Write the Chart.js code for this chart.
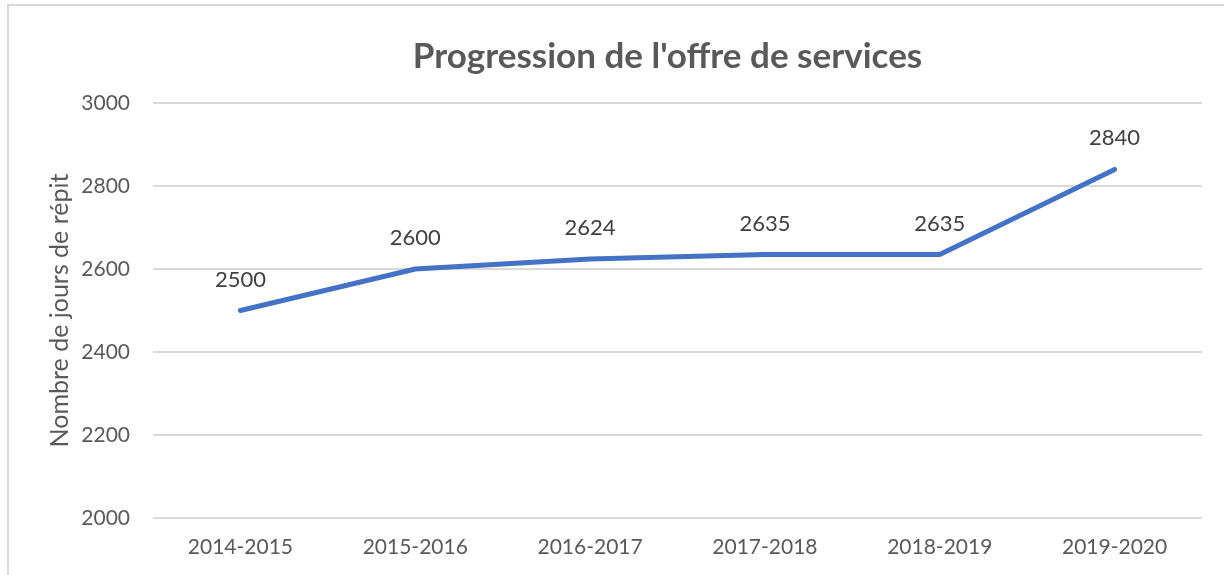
<!DOCTYPE html>
<html>
<head>
<meta charset="utf-8">
<script src="https://cdn.jsdelivr.net/npm/chart.js@4.4.0/dist/chart.umd.min.js"></script>
<style>
  html, body { margin: 0; padding: 0; background: #fff; }
  #wrap { position: relative; width: 1224px; height: 575px; }
  #frame {
    position: absolute; left: 7px; top: 4px; right: 0; bottom: 0;
    border-left: 2px solid #d9d9d9; border-top: 2px solid #d9d9d9;
  }
  canvas { position: absolute; left: 0; top: 0; }
</style>
</head>
<body>
<div id="wrap">
  <div id="frame"></div>
  <canvas id="chart" width="1224" height="575"></canvas>
</div>
<script>
// chart data
const seasons = ['2014-2015', '2015-2016', '2016-2017', '2017-2018', '2018-2019', '2019-2020'];
const respiteDays = [2500, 2600, 2624, 2635, 2635, 2840];
const yTicks = [2000, 2200, 2400, 2600, 2800, 3000];

const FONT = 'Lato, "Open Sans", sans-serif';
const TEXT = '#595959';

// simple value labels above each point
const pointLabels = {
  id: 'pointLabels',
  afterDatasetsDraw(chart) {
    const ctx = chart.ctx;
    const meta = chart.getDatasetMeta(0);
    ctx.save();
    ctx.font = '22px ' + FONT;
    ctx.fillStyle = '#404040';
    ctx.textAlign = 'center';
    ctx.textBaseline = 'middle';
    meta.data.forEach((pt, i) => {
      ctx.fillText(String(respiteDays[i]), pt.x, pt.y - 31);
    });
    ctx.restore();
  }
};

// the title sits a bit right of the canvas centre in the original
const titleShift = {
  id: 'titleShift',
  afterLayout(chart) {
    const tb = chart.titleBlock;
    if (tb) { tb.left += 44; tb.right += 44; }
  }
};

new Chart(document.getElementById('chart'), {
  type: 'line',
  data: {
    labels: seasons,
    datasets: [{
      label: 'Nombre de jours de répit',
      data: respiteDays,
      borderColor: '#4472C4',
      borderWidth: 5,
      borderCapStyle: 'round',
      borderJoinStyle: 'round',
      pointRadius: 0,
      tension: 0,
      fill: false
    }]
  },
  options: {
    responsive: false,
    animation: false,
    layout: { padding: { left: 45, right: 22, top: 36, bottom: 14 } },
    plugins: {
      legend: { display: false },
      tooltip: { enabled: false },
      title: {
        display: true,
        text: "Progression de l'offre de services",
        color: TEXT,
        font: { family: FONT, size: 35, weight: 'bold' },
        padding: { top: 0, bottom: 25 }
      }
    },
    scales: {
      x: {
        offset: true,
        afterFit: s => { s.height = 43; },
        grid: { display: false, drawTicks: false },
        border: { display: false },
        ticks: { color: TEXT, font: { family: FONT, size: 21 }, padding: 17, maxRotation: 0 }
      },
      y: {
        min: 2000,
        max: 3000,
        afterFit: s => { s.width = 108; },
        afterBuildTicks: s => { s.ticks = yTicks.map(v => ({ value: v })); },
        grid: { color: '#d9d9d9', lineWidth: 2, drawTicks: false },
        border: { display: false },
        ticks: { color: TEXT, font: { family: FONT, size: 21 }, padding: 23, callback: v => String(v) },
        title: {
          display: true,
          text: 'Nombre de jours de répit',
          color: TEXT,
          font: { family: FONT, size: 25 },
          padding: { top: 0, bottom: 7 }
        }
      }
    }
  },
  plugins: [pointLabels, titleShift]
});
</script>
</body>
</html>
